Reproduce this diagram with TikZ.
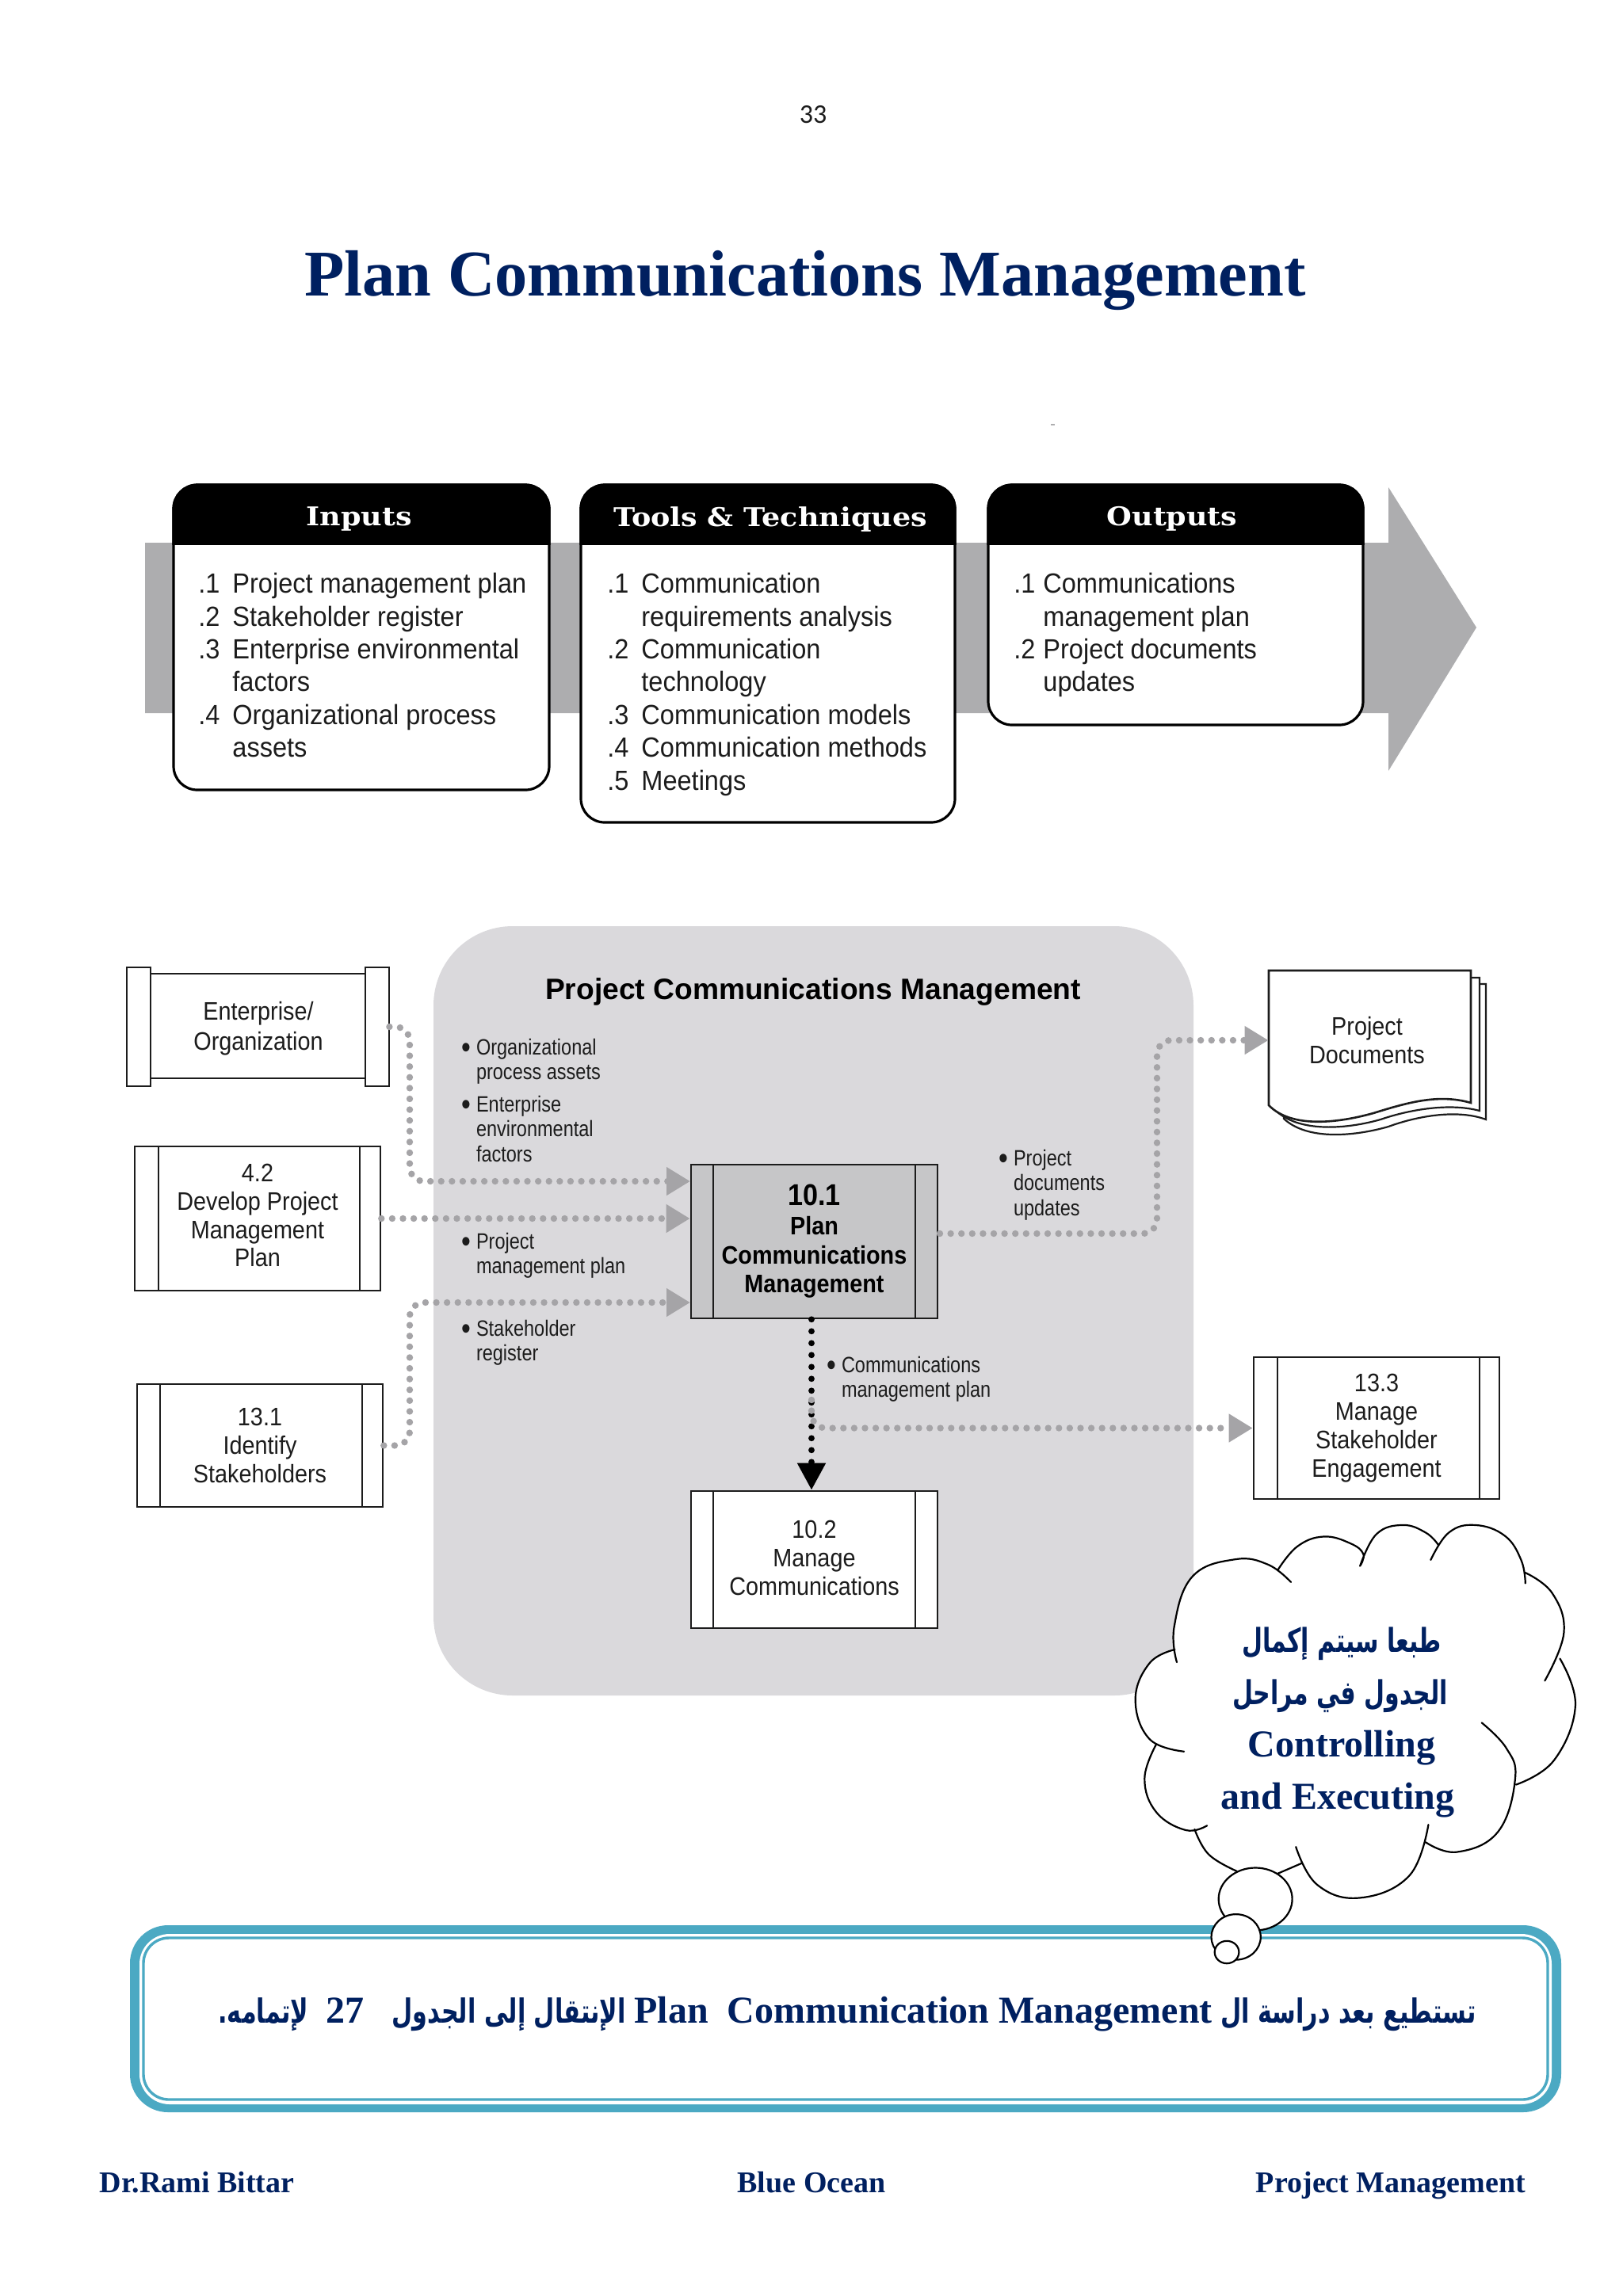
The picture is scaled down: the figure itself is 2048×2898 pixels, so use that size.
\documentclass[tikz,border=0pt]{standalone}
\usepackage{fontspec}
\usetikzlibrary{arrows.meta,calc}
\TeXXeTstate=1
\setmainfont{Liberation Serif}
\newfontfamily\arb[Script=Arabic,FakeStretch=.72]{DejaVu Sans}
\newfontfamily\lst[FakeStretch=.93]{Liberation Sans}
\newfontfamily\bxf[FakeStretch=.90]{Liberation Sans}
\newfontfamily\lab[FakeStretch=.84]{Liberation Sans}
\newfontfamily\hdr[FakeStretch=1.12]{DejaVu Serif}
\newfontfamily\pgn{Carlito}
\newfontfamily\hdl{Liberation Sans}
\definecolor{navy}{HTML}{002060}
\definecolor{tealb}{HTML}{4BA9C3}
\definecolor{bandg}{HTML}{ADADAF}
\definecolor{panelg}{HTML}{DAD9DC}
\definecolor{procg}{HTML}{C6C6C8}
\definecolor{dotg}{HTML}{A5A4A7}
\definecolor{ink}{HTML}{1C1C1C}
\tikzset{
 panel/.style={draw=black,line width=1.6pt,fill=white,rounded corners=15pt},
 listtxt/.style={anchor=north west,inner sep=0pt,align=left,text=ink,font=\lst\fontsize{17.5}{20.7}\selectfont},
 headtxt/.style={text=white,inner sep=0pt,font=\hdr\bfseries\fontsize{16.3}{18}\selectfont},
 labtxt/.style={anchor=north west,inner sep=0pt,align=left,text=ink,font=\lab\fontsize{14}{15.6}\selectfont},
 boxtxt/.style={inner sep=0pt,align=center,text=ink,font=\bxf\fontsize{16}{17.9}\selectfont},
 boldbox/.style={text=black,font=\bxf\bfseries\fontsize{16}{18.3}\selectfont},
 boxline/.style={draw=ink,line width=1.3pt},
 gdot/.style={draw=dotg,line width=4.2pt,dash pattern=on 0pt off 6.8pt,line cap=round,rounded corners=9pt,
   -{Triangle[width=17pt,length=15pt,color=dotg]}},
 kdot/.style={draw=black,line width=3.9pt,dash pattern=on 0pt off 7.5pt,line cap=round,
   -{Triangle[width=17pt,length=17pt,color=black]}},
 cloudline/.style={draw=black,line width=1.1pt},
 foot/.style={inner sep=0pt,anchor=base,text=navy,font=\bfseries\fontsize{19}{21}\selectfont},
 cloudlatin/.style={inner sep=0pt,text=navy,font=\bfseries\fontsize{24}{26}\selectfont},
 cloudarab/.style={inner sep=0pt,text=navy,font=\arb\bfseries\fontsize{20.8}{24}\selectfont},
}
\newcommand\itm[2]{\makebox[21.5pt][l]{#1}#2}
\newcommand\bul{\makebox[7.8pt][l]{\hspace*{-1.5pt}\raisebox{-2pt}{\fontsize{20}{20}\selectfont •}}}
\newcommand\nob{\makebox[7.8pt][l]{}}
\newcommand\lobepaths{%
 plot[smooth,tension=.7] coordinates {(253,517)(245,400)(300,235)(430,178)(530,195)(600,253)}
 plot[smooth,tension=.7] coordinates {(560,213)(620,135)(700,103)(780,125)(820,160)(810,200)}
 plot[smooth,tension=.7] coordinates {(810,200)(860,95)(940,65)(1010,90)(1048,130)}
 plot[smooth,tension=.7] coordinates {(1025,180)(1080,90)(1160,65)(1250,100)(1300,180)(1313,257)}
 plot[smooth,tension=.7] coordinates {(1313,222)(1395,290)(1430,420)(1372,578)}
 plot[smooth,tension=.7] coordinates {(1418,505)(1465,660)(1400,840)(1285,920)}
 plot[smooth,tension=.7] coordinates {(1180,716)(1255,800)(1282,900)(1230,1075)(1105,1142)(1010,1110)}
 plot[smooth,tension=.7] coordinates {(1018,1052)(960,1220)(810,1293)(680,1250)(615,1125)}
 plot[smooth,tension=.7] coordinates {(635,1178)(560,1213)}
 plot[smooth,tension=.7] coordinates {(435,1205)(350,1150)(307,1067)}
 plot[smooth,tension=.7] coordinates {(345,1055)(280,1070)(190,1010)(155,900)(190,788)}
 plot[smooth,tension=.7] coordinates {(275,811)(170,770)(127,640)(170,520)(247,475)}
}
% name,x1,y1,x2,y2,lx,rx,style,text
\newcommand\proc[9]{%
 \node[boxline,boxtxt,minimum width={(#4-#2)*0.5pt},minimum height={(#5-#3)*0.5pt},#8] (#1) at ({(#2+#4)/2},{(#3+#5)/2}) {#9};
 \draw[boxline] (#6,#3)--(#6,#5) (#7,#3)--(#7,#5);}
\newcommand\ittopanel[7]{%
 \path[panel] (#1,#2) rectangle (#3,#4);
 \begin{scope}
 \clip (#1-5,#2-5) rectangle (#3+5,687);
 \path[panel,fill=black] (#1,#2) rectangle (#3,760);
 \end{scope}
 \node[headtxt] (#5) at (#7,655) {#6};}
\begin{document}
\begin{tikzpicture}[x=0.5pt,y=-0.5pt]
\useasboundingbox (0,0) rectangle (2048,2898);
\fill[white] (0,0) rectangle (2048,2898);
\node[inner sep=0pt,font=\pgn\fontsize{17}{18}\selectfont,text=ink] (pageno) at (1026,145) {33};
\node[inner sep=0pt,text=navy,font=\bfseries\fontsize{41.2}{44}\selectfont] (title) at (1016,354) {Plan Communications Management};
\draw[bandg,line width=.8pt] (1326,536)--(1331,536);
% big arrow
\fill[bandg] (183,685)--(1752,685)--(1752,615)--(1863,792)--(1752,973)--(1752,900)--(183,900)--cycle;
% panels
\ittopanel{219}{612}{693}{997}{inputs}{Inputs}{453}
\ittopanel{733}{612}{1205}{1038}{tools}{Tools \& Techniques}{972}
\ittopanel{1247}{612}{1720}{915}{outputs}{Outputs}{1479}
\node[listtxt] (inlist) at (250,723) {\itm{.1}{Project management plan}\\\itm{.2}{Stakeholder register}\\\itm{.3}{Enterprise environmental}\\\itm{}{factors}\\\itm{.4}{Organizational process}\\\itm{}{assets}};
\node[listtxt] (toollist) at (766,723) {\itm{.1}{Communication}\\\itm{}{requirements analysis}\\\itm{.2}{Communication}\\\itm{}{technology}\\\itm{.3}{Communication models}\\\itm{.4}{Communication methods}\\\itm{.5}{Meetings}};
\node[listtxt] (outlist) at (1279,723) {\makebox[18.5pt][l]{.1}Communications\\\makebox[18.5pt][l]{}management plan\\\makebox[18.5pt][l]{.2}Project documents\\\makebox[18.5pt][l]{}updates};
% grey panel
\fill[panelg,rounded corners=50pt] (547,1169) rectangle (1506,2140);
\node[inner sep=0pt,text=black,font=\hdl\bfseries\fontsize{18.6}{20}\selectfont] (pcm) at (1026,1252) {Project Communications Management};
% enterprise scroll
\node[inner sep=0pt,minimum width={331*0.5pt},minimum height={150*0.5pt}] (ent) at (325.5,1296) {};
\draw[boxline,fill=white] (190,1229) rectangle (461,1361);
\node[boxtxt,font=\bxf\fontsize{16}{19}\selectfont] (enttxt) at (326,1298) {Enterprise/\\Organization};
\draw[boxline,fill=white] (160,1221) rectangle (190,1371);
\draw[boxline,fill=white] (461,1221) rectangle (491,1371);
\proc{dev}{170}{1447}{480}{1629}{200}{454}{fill=white}{4.2\\Develop Project\\Management\\Plan\rule[-4pt]{0pt}{4pt}}
\proc{idn}{173}{1747}{483}{1902}{202}{457}{fill=white}{13.1\\Identify\\Stakeholders}
\proc{plan}{872}{1470}{1183}{1664}{900}{1155}{fill=procg,boldbox}{{\fontsize{19}{18.3}\selectfont 10.1}\\Plan\\Communications\\Management}
\proc{comm}{872}{1882}{1183}{2055}{900}{1155}{fill=white}{10.2\\Manage\\Communications\rule[-2pt]{0pt}{2pt}}
\proc{mse}{1582}{1713}{1892}{1892}{1612}{1867}{fill=white}{13.3\\Manage\\Stakeholder\\Engagement}
% project documents
\draw[boxline,fill=white,line width=1.1pt] (1620,1242)--(1875,1242)--(1875,1413) .. controls (1840,1400) and (1790,1408) .. (1752,1422) .. controls (1710,1434) and (1650,1440) .. (1620,1412)--cycle;
\draw[boxline,fill=white,line width=1.1pt] (1610,1234)--(1867,1234)--(1867,1402) .. controls (1830,1392) and (1780,1400) .. (1742,1413) .. controls (1700,1425) and (1640,1430) .. (1610,1402)--cycle;
\draw[boxline,fill=white] (1601,1225)--(1856,1225)--(1856,1392) .. controls (1815,1380) and (1775,1392) .. (1733,1405) .. controls (1690,1417) and (1630,1425) .. (1601,1395)--cycle;
\node[boxtxt,font=\bxf\fontsize{16}{18}\selectfont,minimum width={248*0.5pt}] (docs) at (1725,1313) {Project\\Documents};
% labels
\node[labtxt] (l1) at (585,1311) {\bul Organizational\\\nob process assets};
\node[labtxt] (l2) at (585,1383) {\bul Enterprise\\\nob environmental\\\nob factors};
\node[labtxt] (l3) at (585,1556) {\bul Project\\\nob management plan};
\node[labtxt] (l4) at (585,1666) {\bul Stakeholder\\\nob register};
\node[labtxt] (l5) at (1263,1451) {\bul Project\\\nob documents\\\nob updates};
\node[labtxt] (l6) at (1046,1712) {\bul Communications\\\nob management plan};
% connectors
\coordinate (inA) at (871,1491);
\coordinate (inC) at (871,1644);
\coordinate (v1) at (517,1400);
\coordinate (v3) at (517,1720);
\coordinate (v2) at (1460,1450);
\coordinate (planE) at (1186,1557);
\coordinate (br) at (1024,1767);
\draw[gdot] (ent.east) -| (v1) |- (inA);
\draw[gdot] (dev.east) -- (dev.east -| plan.west);
\draw[gdot] (idn.east) -| (v3) |- (inC);
\draw[gdot] (planE) -| (v2) |- (docs.west);
\draw[kdot] ([xshift=-1.75pt]plan.south) -- ([xshift=-1.75pt]comm.north);
\draw[gdot] (br) |- (mse.west);
% note frame
\fill[tealb,rounded corners=24pt] (164,2430) rectangle (1970,2666);
\fill[white,rounded corners=19pt] (176,2441) rectangle (1958,2656);
\draw[tealb,line width=1.7pt,rounded corners=16pt] (181,2446) rectangle (1953,2650);
\node[inner sep=0pt,text=navy,font=\arb\bfseries\fontsize{21}{24}\selectfont] (note) at (1069,2542) {\beginR تستطيع بعد دراسة ال \beginL{\rmfamily\bfseries\fontsize{24}{26}\selectfont Plan\ \ Communication Management}\endL{} الإنتقال إلى الجدول \beginL{\rmfamily\bfseries\fontsize{24}{26}\selectfont\ 27\ \ }\endL{} لإتمامه.\endR};
% footer
\node[foot] (f1) at (248.5,2767) {Dr.Rami Bittar};
\node[foot] (f2) at (1024,2767) {Blue Ocean};
\node[foot] (f3) at (1755,2767) {Project Management};
% cloud
\begin{scope}[shift={(1380,1900)},x=0.20747pt,y=-0.19157pt]
\fill[white] plot[smooth cycle,tension=.6] coordinates {(247,475)(245,400)(300,235)(430,178)(560,213)(700,103)(815,160)(940,65)(1040,130)(1160,65)(1290,140)(1313,222)(1430,420)(1418,505)(1465,660)(1400,840)(1285,920)(1230,1075)(1105,1142)(1010,1110)(960,1220)(810,1293)(680,1250)(635,1178)(560,1213)(435,1205)(350,1150)(307,1067)(280,1070)(190,1010)(155,900)(190,788)(170,770)(127,640)(170,520)};
\fill[white] \lobepaths;
\draw[cloudline,line cap=round] \lobepaths;
\draw[cloudline,fill=white] (492,1297) ellipse [x radius=112,y radius=103];
\draw[cloudline,fill=white] (433,1422) ellipse [x radius=75,y radius=75];
\draw[cloudline,fill=white] (405,1472) ellipse [x radius=37,y radius=37];
\end{scope}
\node[cloudarab] (c1) at (1693,2075) {\beginR طبعا سيتم إكمال\endR};
\node[cloudarab] (c2) at (1691,2141) {\beginR الجدول في مراحل\endR};
\node[cloudlatin] (c3) at (1693,2206) {Controlling};
\node[cloudlatin] (c4) at (1688,2272) {and Executing};
\end{tikzpicture}
\end{document}
